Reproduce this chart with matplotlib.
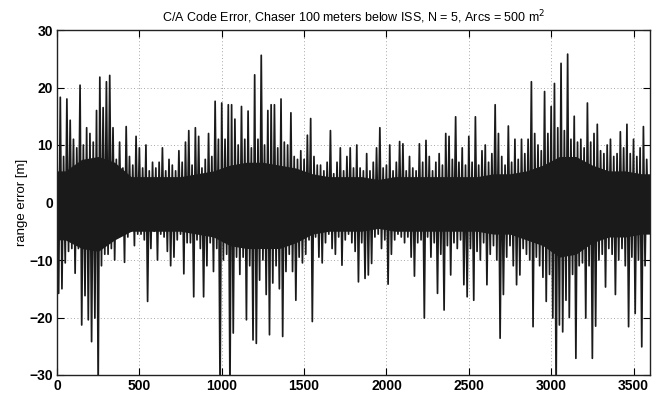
import numpy as np
import matplotlib
matplotlib.use("Agg")
import matplotlib.pyplot as plt

plt.rcParams['font.family'] = ['Liberation Sans', 'DejaVu Sans']

# range error [m], one sample every 10 s
err_0000_0590 = [
    9.0, -15.8, 18.3, -15.0, 8.0, -10.5, 18.0, -8.5, 14.3, -8.0,
    11.0, -12.3, 9.5, -8.0, 20.4, -21.3, 10.0, -16.2, 13.0, -20.4,
    12.0, -24.2, 10.5, -20.1, 16.0, -32.0, 21.8, -11.0, 16.5, -9.0,
    21.0, -9.0, 22.1, -8.0, 13.0, -10.0, 7.5, -6.0, 10.5, -5.5,
    6.0, -10.4, 13.2, -6.0, 8.0, -5.0, 6.5, -7.5, 11.5, -5.5,
    9.5, -5.5, 6.0, -6.5, 10.0, -17.2, 5.5, -8.0, 7.0, -5.0,
]
err_0600_1190 = [
    6.0, -10.0, 7.0, -5.5, 9.5, -6.0, 5.5, -8.5, 7.5, -11.0,
    6.5, -9.5, 5.5, -6.5, 9.0, -5.5, 7.0, -12.4, 10.5, -7.0,
    12.5, -7.0, 6.5, -16.4, 13.0, -6.5, 11.5, -8.0, 6.0, -16.4,
    7.5, -11.0, 12.0, -7.0, 8.0, -12.0, 17.6, -8.0, 11.0, -33.0,
    17.3, -10.0, 11.0, -9.0, 17.0, -33.0, 17.0, -22.7, 14.5, -9.5,
    10.0, -12.5, 16.7, -9.5, 11.0, -20.4, 15.9, -11.0, 9.5, -23.9,
]
err_1200_1790 = [
    22.2, -24.5, 11.0, -13.5, 25.6, -10.0, 10.0, -16.0, 16.0, -23.0,
    17.0, -14.0, 17.0, -11.0, 9.5, -15.0, 18.0, -23.3, 10.5, -12.0,
    10.0, -9.0, 15.6, -12.0, 8.0, -17.0, 7.5, -9.5, 9.0, -10.5,
    7.5, -9.0, 11.7, -6.5, 14.6, -20.7, 8.0, -6.0, 6.5, -9.5,
    6.5, -10.5, 5.5, -7.0, 7.0, -5.5, 12.5, -8.0, 5.0, -9.0,
    7.0, -6.0, 9.5, -10.9, 5.5, -6.5, 8.0, -5.5, 9.5, -7.0,
]
err_1800_2390 = [
    6.0, -8.5, 10.0, -13.8, 6.0, -7.0, 5.5, -13.2, 8.5, -12.6,
    5.5, -10.6, 7.0, -6.0, 9.5, -5.5, 13.0, -8.0, 6.0, -6.5,
    6.5, -14.2, 10.0, -9.0, 5.5, -6.5, 7.0, -5.5, 10.6, -6.0,
    10.2, -7.0, 5.5, -6.0, 8.0, -9.5, 6.0, -12.8, 5.5, -7.0,
    10.2, -6.5, 7.0, -20.1, 10.8, -6.0, 8.0, -9.5, 5.5, -7.0,
    7.0, -15.8, 8.5, -9.0, 6.5, -18.7, 12.0, -7.5, 11.5, -12.6,
]
err_2400_2990 = [
    7.5, -7.0, 14.9, -8.0, 7.0, -6.5, 9.5, -14.3, 6.5, -16.4,
    11.5, -8.0, 7.0, -17.0, 14.9, -8.5, 6.5, -10.0, 9.0, -7.0,
    10.0, -14.3, 7.0, -9.0, 8.5, -7.5, 17.0, -10.0, 12.0, -23.6,
    8.0, -16.0, 6.5, -9.5, 13.3, -7.5, 7.0, -11.0, 11.0, -14.3,
    7.5, -12.6, 11.0, -8.0, 8.5, -9.0, 11.0, -10.0, 21.0, -21.6,
    12.0, -9.5, 10.0, -11.0, 9.0, -13.0, 19.3, -17.2, 12.0, -12.5,
]
err_3000_3590 = [
    16.7, -20.1, 20.7, -33.0, 13.0, -21.3, 24.2, -22.5, 12.5, -17.0,
    25.8, -20.0, 11.0, -12.5, 15.0, -27.1, 10.5, -11.0, 11.0, -10.5,
    9.5, -20.1, 17.3, -11.0, 10.5, -27.1, 12.0, -21.5, 13.6, -10.0,
    9.0, -9.0, 8.5, -14.7, 10.0, -8.0, 11.0, -9.0, 8.0, -16.0,
    8.5, -10.0, 12.3, -8.0, 9.5, -11.0, 13.6, -21.6, 8.5, -9.5,
    11.0, -19.3, 8.0, -10.0, 9.5, -25.1, 13.2, -11.0, 7.5, -5.0,
]

# extent of the fully solid part of the trace, per 100 s window
core_upper = [5.5, 7.5, 8.0, 7.0, 4.5, 4.5, 4.5, 4.5, 5.0, 5.5,
              6.5, 7.0, 7.0, 6.5, 6.0, 5.0, 4.5, 4.5, 4.5, 4.0,
              4.5, 4.5, 4.5, 4.5, 4.5, 4.5, 5.0, 5.0, 5.5, 6.5,
              8.0, 8.0, 6.5, 5.5, 5.5, 5.0]
core_lower = [-6.5, -8.0, -8.5, -6.5, -5.0, -5.0, -5.0, -5.0, -5.5, -6.0,
              -7.5, -8.0, -8.0, -8.0, -7.0, -5.5, -5.0, -5.0, -5.0, -4.5,
              -5.0, -5.0, -5.0, -5.0, -5.0, -5.0, -5.5, -5.5, -6.5, -7.5,
              -9.5, -9.0, -7.0, -6.0, -6.0, -5.5]

sample_step_s = 10
window_s = 100
x_ticks = [0, 500, 1000, 1500, 2000, 2500, 3000, 3500]
y_ticks = [-30, -20, -10, 0, 10, 20, 30]
title = "C/A Code Error, Chaser 100 meters below ISS, N = 5, Arcs = 500 m$^2$"
ylabel = "range error [m]"

err = np.array(err_0000_0590 + err_0600_1190 + err_1200_1790 +
               err_1800_2390 + err_2400_2990 + err_3000_3590)
t = np.arange(len(err)) * sample_step_s

cu = np.array(core_upper)
cl = np.array(core_lower)
tc = np.arange(len(cu)) * window_s + window_s / 2
tc_full = np.r_[0, tc, len(cu) * window_s]
cu_full = np.r_[cu[0], cu, cu[-1]]
cl_full = np.r_[cl[0], cl, cl[-1]]

fig = plt.figure(figsize=(6.56, 3.96), dpi=100)
ax = fig.add_axes([57/656, 21/396, 593/656, 345/396])
ax.fill_between(tc_full, cl_full, cu_full, color='#1a1a1a', lw=0, zorder=2)
ax.plot(t, err, color='#1a1a1a', lw=1.25, zorder=3)

ax.set_xlim(0, 3600)
ax.set_ylim(-30, 30)
ax.set_xticks(x_ticks)
ax.set_yticks(y_ticks)
ax.tick_params(direction='in', top=True, right=True, length=5, width=0.8,
               labelsize=10, pad=3)
for lbl in ax.get_xticklabels() + ax.get_yticklabels():
    lbl.set_fontweight('bold')
ax.grid(True, color='#8a8a8a', lw=0.6, linestyle=(0, (1, 3)), zorder=1)
ax.set_axisbelow(True)
for s in ax.spines.values():
    s.set_linewidth(1.0)
    s.set_color('#222222')
    s.set_zorder(4)

ax.set_title(title, fontsize=9, pad=6)
ax.set_ylabel(ylabel, fontsize=9.5, labelpad=1)

fig.savefig("out.png", dpi=100)
